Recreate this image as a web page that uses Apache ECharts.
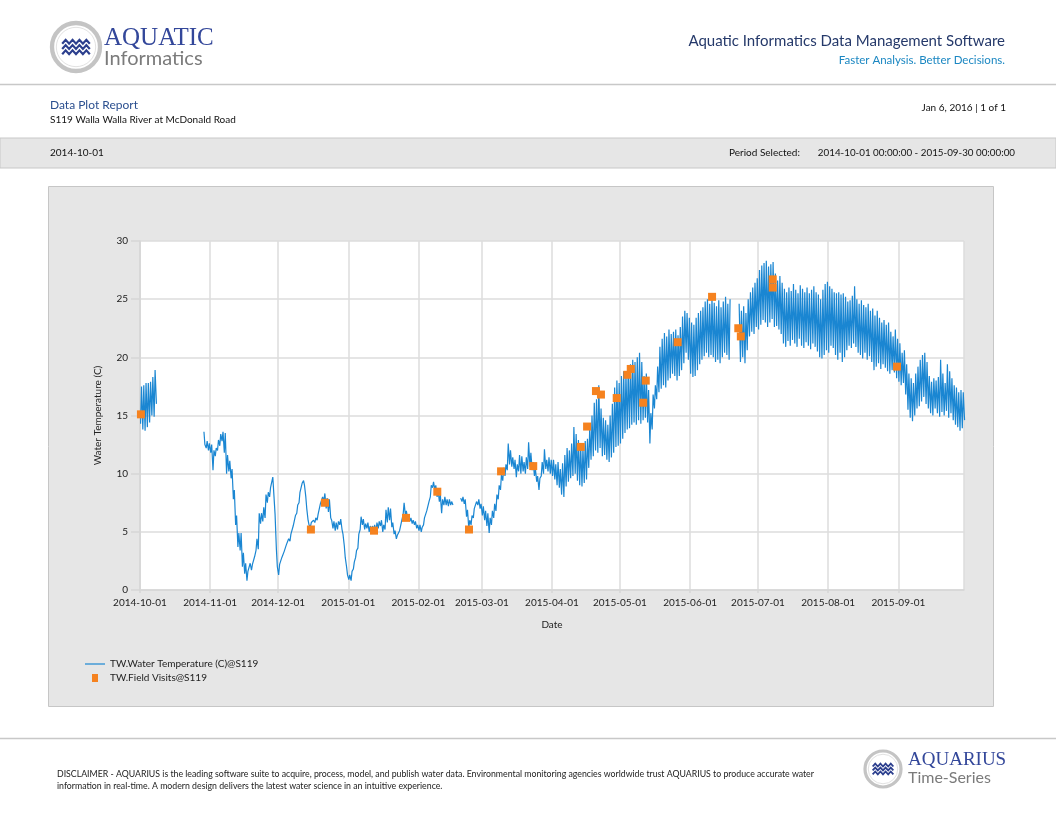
<!DOCTYPE html>
<html>
<head>
<meta charset="utf-8">
<script src="https://cdn.jsdelivr.net/npm/echarts@6/dist/echarts.min.js"></script>
<style>
html,body{margin:0;padding:0;background:#fff;}
#chart{width:1056px;height:816px;}
</style>
</head>
<body>
<div id="chart"></div>
<script>
// Daily readings [morning (06:00), afternoon (16:00)] in °C, null = no data
const oct2014 = [[14.3,17.5],[13.8,17.6],[13.7,17.8],[14.0,17.8],[14.4,17.9],[15.0,18.3],[14.9,18.9],[16.0,null],
  [null,null],[null,null],[null,null],[null,null],[null,null],[null,null],[null,null],[null,null],[null,null],[null,null],
  [null,null],[null,null],[null,null],[null,null],[null,null],[null,null],[null,null],[null,null],[null,null],[null,null],
  [13.6,12.5],[12.2,12.8],[12.0,12.6]];
const nov2014 = [[11.8,12.5],[10.3,12.0],[11.5,12.2],[12.0,12.9],[12.4,13.4],[12.8,13.6],[11.8,13.5],[10.0,11.6],[10.2,11.1],[9.6,10.4],
  [7.8,8.6],[5.6,6.4],[3.7,4.9],[3.4,4.9],[2.0,3.2],[1.4,2.3],[0.8,1.6],[1.6,2.3],[1.7,2.2],[2.3,2.9],
  [3.4,4.4],[3.5,6.6],[5.7,6.6],[5.9,7.1],[6.2,8.2],[7.5,8.4],[8.0,8.8],[8.7,9.7],[9.6,6.5],[3.5,2.0]];
const dec2014 = [[1.3,2.2],[2.3,2.8],[2.8,3.3],[3.4,3.9],[3.8,4.4],[4.2,4.8],[4.9,5.5],[5.6,6.4],[6.6,7.3],[7.5,8.4],
  [8.5,9.2],[9.4,9.0],[8.0,7.0],[6.0,5.6],[5.4,5.8],[5.7,6.0],[5.8,6.2],[6.0,6.5],[6.6,7.4],[7.3,8.0],
  [7.7,8.3],[7.0,7.9],[6.7,7.8],[6.2,6.0],[5.3,5.9],[5.1,5.8],[5.2,5.9],[5.6,6.1],[5.2,4.8],[3.8,2.8],[2.0,1.3]];
const jan2015 = [[0.9,1.3],[0.8,1.6],[1.8,2.4],[2.8,3.4],[3.6,4.8],[5.2,6.3],[5.6,6.1],[5.2,5.7],[5.3,5.8],[5.0,5.5],
  [5.1,5.5],[5.2,5.6],[5.0,5.8],[5.3,5.9],[5.5,6.0],[5.0,5.6],[5.2,6.9],[5.8,7.1],[6.0,7.0],[5.4,5.8],
  [4.8,5.1],[4.4,4.7],[4.6,5.1],[5.0,6.0],[6.5,7.5],[6.4,6.8],[6.1,6.4],[5.9,6.2],[5.7,6.0],[5.6,5.9],[5.3,5.6]];
const feb2015 = [[5.1,5.6],[5.0,5.4],[5.6,6.2],[6.2,6.8],[6.7,7.6],[8.0,9.0],[8.8,9.3],[8.6,9.0],[8.0,8.6],[7.6,8.2],
  [6.6,7.8],[7.3,8.0],[7.3,7.8],[7.2,7.8],[7.3,7.6],[7.3,null],[null,null],[null,null],[null,7.9],[7.6,8.0],
  [7.4,7.8],[6.3,6.9],[5.3,6.0],[5.6,6.4],[6.2,7.0],[6.9,7.6],[7.3,7.8],[7.0,7.4]];
const mar2015 = [[6.4,7.2],[6.0,6.8],[5.5,6.6],[4.9,6.2],[5.6,6.8],[6.2,7.4],[6.8,8.2],[7.8,9.0],[8.6,9.9],[9.4,10.5],
  [9.8,10.8],[10.3,12.6],[10.8,12.0],[10.6,11.4],[10.4,11.2],[9.7,10.8],[10.2,11.6],[10.0,11.5],[10.2,11.0],[10.0,11.4],
  [10.4,12.7],[10.6,11.8],[10.3,11.0],[9.8,10.4],[9.3,9.8],[8.6,9.6],[9.8,11.0],[10.0,12.1],[10.4,11.2],[10.2,11.4],[10.0,11.2]];
const apr2015 = [[9.8,11.2],[9.5,10.8],[9.0,11.0],[8.8,10.4],[8.2,10.9],[8.0,11.6],[8.9,12.2],[9.3,12.0],[9.6,12.6],[9.8,14.0],
  [10.0,13.4],[9.4,12.9],[9.0,12.4],[8.9,12.2],[9.2,12.8],[9.5,13.0],[10.5,14.0],[11.2,15.0],[11.5,16.1],[12.0,16.4],
  [11.8,17.6],[12.2,15.6],[11.5,14.8],[11.6,14.6],[11.2,14.2],[11.0,15.0],[11.4,16.0],[11.8,17.4],[12.3,18.0],[12.4,17.8]];
const may2015 = [[12.6,18.4],[13.0,18.8],[13.5,18.6],[13.8,19.0],[13.9,19.4],[14.2,19.8],[14.4,19.6],[14.2,20.0],[14.6,20.4],[14.3,19.6],
  [14.6,18.4],[14.8,18.6],[14.4,17.2],[12.6,15.2],[13.8,16.8],[15.6,17.6],[16.4,19.2],[17.0,20.9],[17.3,21.6],[17.6,22.1],
  [17.4,21.8],[18.0,22.4],[18.2,22.0],[18.6,22.2],[18.4,22.4],[18.0,21.9],[18.4,22.6],[18.9,23.5],[19.5,24.0],[20.4,23.8],[19.8,23.4]];
const jun2015 = [[18.6,23.0],[18.3,22.8],[18.4,23.4],[18.9,23.8],[19.4,24.0],[19.8,24.3],[20.1,24.8],[20.4,25.0],[20.0,24.6],[20.2,25.1],
  [20.0,24.7],[19.6,24.4],[19.8,24.9],[19.5,24.3],[20.0,24.8],[20.4,25.2],[20.2,24.6],[19.8,25.0],[null,null],[null,null],
  [null,null],[null,24.6],[19.6,24.0],[20.0,24.4],[19.5,23.8],[20.6,25.0],[21.8,25.6],[22.2,26.0],[22.0,26.4],[22.6,26.8]];
const jul2015 = [[22.4,27.5],[22.8,27.9],[23.2,28.1],[23.0,28.3],[22.6,27.8],[23.0,28.0],[23.3,28.2],[22.6,27.2],[22.7,26.6],[22.4,27.0],
  [22.0,26.4],[21.2,25.9],[20.9,25.6],[21.4,26.0],[21.0,25.7],[21.5,26.3],[21.2,25.8],[20.9,25.5],[21.6,26.2],[21.0,25.9],
  [20.8,25.6],[21.3,26.0],[21.0,25.5],[20.7,25.8],[21.2,26.1],[20.9,25.6],[20.5,25.4],[20.0,25.0],[19.9,25.8],[20.2,26.3],[20.6,26.5]];
const aug2015 = [[20.4,26.1],[21.0,25.9],[20.8,25.6],[20.2,25.5],[19.8,25.6],[20.4,25.4],[19.6,25.5],[20.0,25.2],[20.6,24.8],[21.0,24.9],
  [20.8,25.3],[21.2,26.1],[20.9,25.0],[20.4,24.6],[20.2,24.9],[19.9,24.5],[20.4,24.3],[19.8,24.6],[20.1,24.0],[19.6,24.2],
  [18.9,23.6],[19.2,24.0],[19.5,23.4],[19.0,23.0],[19.4,23.2],[19.1,22.8],[18.8,23.0],[18.6,22.2],[18.9,21.8],[18.7,22.4],[18.2,21.6]];
const sep2015 = [[17.9,21.2],[17.6,20.4],[17.8,20.6],[16.8,19.4],[15.5,18.6],[14.8,18.2],[14.5,17.8],[15.0,18.6],[15.6,19.2],[15.8,19.8],
  [16.2,20.2],[16.6,20.4],[16.0,19.6],[15.6,18.4],[15.2,17.9],[15.0,18.2],[15.6,18.0],[15.2,18.3],[14.9,19.8],[15.3,18.6],
  [15.0,17.8],[15.4,19.4],[14.8,18.8],[15.2,18.2],[14.6,17.6],[14.2,17.4],[14.0,17.0],[13.7,17.2],[13.9,17.0],[14.6,null]];

// Field visits: [date time, °C]
const fieldVisits = [
  ['2014-10-01 10:00', 15.1], ['2014-12-15 12:00', 5.2], ['2014-12-21 17:00', 7.5], ['2015-01-12 09:00', 5.1],
  ['2015-01-26 12:00', 6.2], ['2015-02-09 08:00', 8.45], ['2015-02-23 08:00', 5.2], ['2015-03-09 12:00', 10.2],
  ['2015-03-23 17:00', 10.65], ['2015-04-13 17:00', 12.3], ['2015-04-16 12:00', 14.05], ['2015-04-20 10:00', 17.1],
  ['2015-04-22 15:00', 16.8], ['2015-04-29 14:00', 16.5], ['2015-05-04 07:00', 18.5], ['2015-05-05 19:00', 19.0],
  ['2015-05-11 07:00', 16.1], ['2015-05-12 10:00', 18.0], ['2015-05-26 12:00', 21.3], ['2015-06-10 17:00', 25.2],
  ['2015-06-22 07:00', 22.5], ['2015-06-23 10:00', 21.8], ['2015-07-07 12:00', 26.7], ['2015-07-07 12:30', 26.0],
  ['2015-08-31 10:00', 19.2]
];

const yTicks = [0, 5, 10, 15, 20, 25, 30];
const seriesNames = ['TW.Water Temperature (C)@S119', 'TW.Field Visits@S119'];

function parseLocal(s) {
  const m = s.match(/(\d+)-(\d+)-(\d+)\s+(\d+):(\d+)/);
  return new Date(+m[1], +m[2] - 1, +m[3], +m[4], +m[5]).getTime();
}

const allDays = [].concat(oct2014, nov2014, dec2014, jan2015, feb2015, mar2015, apr2015, may2015, jun2015, jul2015, aug2015, sep2015);
const lineData = [];
allDays.forEach(function (d, i) {
  const am = d[0], pm = d[1];
  if (am === null && pm === null) {
    lineData.push([new Date(2014, 9, 1 + i, 12).getTime(), null]);
    return;
  }
  if (am !== null) lineData.push([new Date(2014, 9, 1 + i, 6).getTime(), am]);
  if (pm !== null) lineData.push([new Date(2014, 9, 1 + i, 16).getTime(), pm]);
});
const visitData = fieldVisits.map(function (v) { return [parseLocal(v[0]), v[1]]; });

const FONT = "Lato, 'Open Sans', 'Noto Sans', sans-serif";
const SERIF = "'Liberation Serif', 'DejaVu Serif', serif";
const NAVY = '#2c3f8e';

function wave(cx, cy, w, amp, n) {
  const pts = [];
  for (let k = 0; k <= n * 2; k++) {
    pts.push([cx - w / 2 + (w * k) / (n * 2), cy + (k % 2 === 0 ? amp : -amp)]);
  }
  return pts;
}
function logo(cx, cy, r, lw) {
  const els = [
    { type: 'circle', z: 5, shape: { cx: cx, cy: cy, r: r }, style: { fill: '#fff', stroke: '#c4c4c4', lineWidth: r * 0.18 } },
    { type: 'circle', z: 5, shape: { cx: cx, cy: cy, r: r * 0.82 }, style: { fill: 'none', stroke: '#e2e2e2', lineWidth: 1 } }
  ];
  [-0.22, 0, 0.22].forEach(function (dy) {
    els.push({ type: 'polyline', z: 6, shape: { points: wave(cx, cy + dy * r, r * 1.15, r * 0.08, 4) },
      style: { stroke: NAVY, lineWidth: lw, fill: 'none' } });
  });
  return els;
}

const graphics = [].concat(
  [
    // chart panel
    { type: 'rect', z: -10, shape: { x: 48.5, y: 186.5, width: 945, height: 520 }, style: { fill: '#e6e6e6', stroke: '#c6c6c6', lineWidth: 1 } },
    // header separator
    { type: 'line', z: 1, shape: { x1: 0, y1: 84.5, x2: 1056, y2: 84.5 }, style: { stroke: '#c8c8c8', lineWidth: 1.5 } },
    // grey band
    { type: 'rect', z: 1, shape: { x: 0, y: 138, width: 1056, height: 30 }, style: { fill: '#e6e6e6', stroke: '#c8c8c8', lineWidth: 1 } },
    // footer separator
    { type: 'line', z: 1, shape: { x1: 0, y1: 738.5, x2: 1056, y2: 738.5 }, style: { stroke: '#c8c8c8', lineWidth: 1.5 } },

    { type: 'text', z: 6, x: 104, y: 38, style: { text: 'AQUATIC', font: '25px ' + SERIF, fill: '#33479a', textVerticalAlign: 'middle' } },
    { type: 'text', z: 6, x: 104, y: 59, style: { text: 'Informatics', font: '20px ' + FONT, fill: '#7b7b7b', textVerticalAlign: 'middle' } },
    { type: 'text', z: 6, x: 1005, y: 41, style: { text: 'Aquatic Informatics Data Management Software', font: '15px ' + FONT, fill: '#25396a', textAlign: 'right', textVerticalAlign: 'middle' } },
    { type: 'text', z: 6, x: 1005, y: 60, style: { text: 'Faster Analysis. Better Decisions.', font: '11.5px ' + FONT, fill: '#1b87c2', textAlign: 'right', textVerticalAlign: 'middle' } },

    { type: 'text', z: 6, x: 50, y: 105, style: { text: 'Data Plot Report', font: '12px ' + FONT, fill: '#2b4f8f', textVerticalAlign: 'middle' } },
    { type: 'text', z: 6, x: 50, y: 120, style: { text: 'S119 Walla Walla River at McDonald Road', font: '10px ' + FONT, fill: '#111', textVerticalAlign: 'middle' } },
    { type: 'text', z: 6, x: 1006, y: 108, style: { text: 'Jan 6, 2016 | 1 of 1', font: '10px ' + FONT, fill: '#111', textAlign: 'right', textVerticalAlign: 'middle' } },

    { type: 'text', z: 6, x: 50, y: 153, style: { text: '2014-10-01', font: '10px ' + FONT, fill: '#111', textVerticalAlign: 'middle' } },
    { type: 'text', z: 6, x: 729, y: 153, style: { text: 'Period Selected:', font: '10px ' + FONT, fill: '#111', textVerticalAlign: 'middle' } },
    { type: 'text', z: 6, x: 1015, y: 153, style: { text: '2014-10-01 00:00:00 - 2015-09-30 00:00:00', font: '9.8px ' + FONT, fill: '#111', textAlign: 'right', textVerticalAlign: 'middle' } },

    { type: 'text', z: 6, x: 57, y: 774, style: { text: 'DISCLAIMER - AQUARIUS is the leading software suite to acquire, process, model, and publish water data. Environmental monitoring agencies worldwide trust AQUARIUS to produce accurate water', font: '8.75px ' + FONT, fill: '#222', textVerticalAlign: 'middle' } },
    { type: 'text', z: 6, x: 57, y: 786, style: { text: 'information in real-time. A modern design delivers the latest water science in an intuitive experience.', font: '8.75px ' + FONT, fill: '#222', textVerticalAlign: 'middle' } },

    { type: 'text', z: 6, x: 908, y: 760, style: { text: 'AQUARIUS', font: '19px ' + SERIF, fill: '#33479a', textVerticalAlign: 'middle' } },
    { type: 'text', z: 6, x: 908, y: 778, style: { text: 'Time-Series', font: '16px ' + FONT, fill: '#7b7b7b', textVerticalAlign: 'middle' } }
  ],
  logo(76, 47, 24, 2.2),
  logo(883, 769, 18, 1.8)
);

const chart = echarts.init(document.getElementById('chart'), null, { renderer: 'canvas' });
chart.setOption({
  animation: false,
  backgroundColor: '#ffffff',
  textStyle: { fontFamily: FONT },
  graphic: graphics,
  grid: { left: 140, top: 241, right: 92, bottom: 226, show: true, backgroundColor: '#ffffff', borderWidth: 0, containLabel: false },
  legend: {
    orient: 'vertical', left: 85, top: 659, padding: 0, itemGap: 4, itemWidth: 20, itemHeight: 8,
    textStyle: { fontSize: 10, color: '#222', fontFamily: FONT },
    data: [
      { name: seriesNames[0], icon: 'path://M0,0h20v1.2h-20z' },
      { name: seriesNames[1], icon: 'path://M0,0h6v8h-6z' }
    ]
  },
  xAxis: {
    type: 'time',
    min: new Date(2014, 9, 1).getTime(),
    max: new Date(2015, 8, 30).getTime(),
    splitNumber: 12,
    minInterval: 28 * 86400000,
    maxInterval: 31 * 86400000,
    name: 'Date', nameLocation: 'middle', nameGap: 30,
    nameTextStyle: { fontSize: 10, color: '#222', fontFamily: FONT },
    axisLine: { show: true, lineStyle: { color: '#d6d6d6', width: 1.5 } },
    axisTick: { show: true, length: 3, lineStyle: { color: '#d6d6d6', width: 1.5 } },
    axisLabel: { formatter: '{yyyy}-{MM}-{dd}', fontSize: 10, color: '#222', margin: 8, fontFamily: FONT, showMinLabel: true },
    splitLine: { show: true, lineStyle: { color: '#dcdcdc', width: 1.5 } }
  },
  yAxis: {
    type: 'value', min: yTicks[0], max: yTicks[yTicks.length - 1], interval: 5,
    name: 'Water Temperature (C)', nameLocation: 'middle', nameGap: 37,
    nameTextStyle: { fontSize: 10, color: '#222', fontFamily: FONT },
    axisLine: { show: true, lineStyle: { color: '#d6d6d6', width: 1.5 } },
    axisTick: { show: true, length: 9, lineStyle: { color: '#d6d6d6', width: 1.5 } },
    axisLabel: { fontSize: 10, color: '#222', margin: 12, fontFamily: FONT },
    splitLine: { show: true, lineStyle: { color: '#dcdcdc', width: 1.5 } }
  },
  series: [
    {
      name: seriesNames[0], type: 'line', data: lineData, symbol: 'none', showSymbol: false,
      connectNulls: false, sampling: null, clip: true,
      lineStyle: { color: '#1a86d2', width: 1.2 }, itemStyle: { color: '#1a86d2' }, z: 3
    },
    {
      name: seriesNames[1], type: 'scatter', data: visitData, symbol: 'rect', symbolSize: 8,
      itemStyle: { color: '#f5821f', opacity: 1 }, z: 4
    }
  ]
});
</script>
</body>
</html>
